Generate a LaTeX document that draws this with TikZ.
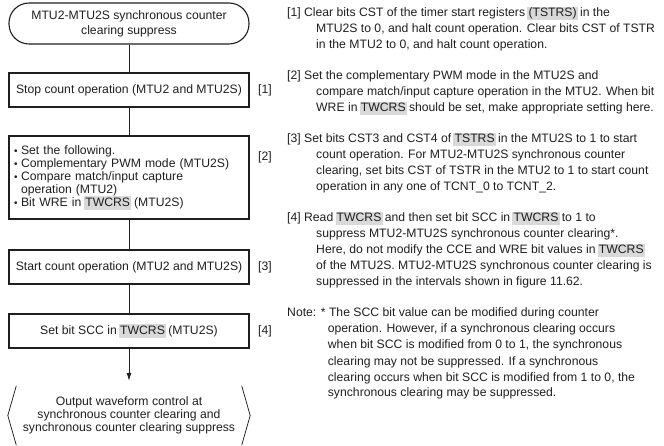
\documentclass[tikz,border=0pt]{standalone}
\usepackage{fontspec}
\setmainfont{Liberation Sans}
\usetikzlibrary{arrows.meta}
\definecolor{hlgray}{gray}{0.85}
\definecolor{ink}{gray}{0.12}
\newcommand{\hlt}[1]{\setbox0=\hbox{#1}\rlap{\kern-1.2pt\textcolor{hlgray}{\vrule width \dimexpr\wd0+2.4pt\relax height 10pt depth 3.2pt}}\box0\relax}
\newcommand{\blt}{\makebox[7.5pt][l]{\hspace*{0.5pt}\raisebox{0.3pt}{\fontsize{10}{10}\selectfont\textbullet}}}
\begin{document}
\begin{tikzpicture}[x=1pt,y=-1pt,
  font=\fontsize{12.2}{15}\selectfont, text=ink,
  box/.style={draw=ink, line width=1.1pt, minimum width=240pt, minimum height=34pt, inner sep=0pt, align=center},
  term/.style={box, rounded corners=20pt, minimum height=41pt, font=\fontsize{12.2}{15}\selectfont},
  endt/.style={minimum width=242pt, minimum height=59pt, inner sep=0pt, align=center, font=\fontsize{12.2}{12.8}\selectfont},
  conn/.style={draw=ink, line width=0.75pt},
  lbl/.style={anchor=west, inner sep=0pt},
  para/.style={anchor=base west, inner sep=0pt, font=\fontsize{12.2}{16}\selectfont}]
\useasboundingbox (0,0) rectangle (664,446);

% flowchart
\node[term] (start) at (129,23.5) {MTU2-MTU2S synchronous counter\\clearing suppress};
\node[box] (s1) at (129,90) {Stop count operation (MTU2 and MTU2S)};
\node[box, minimum height=83pt, text width=231pt, inner xsep=4.5pt, align=left,
      font=\fontsize{12.2}{13}\selectfont] (s2) at (129,177.5)
  {\blt Set the following.\\
   \blt Complementary PWM mode (MTU2S)\\
   \blt Compare match/input capture\\
   \hspace*{7.5pt}operation (MTU2)\\
   \blt Bit WRE in \hlt{TWCRS} (MTU2S)};
\node[box] (s3) at (129,267) {Start count operation (MTU2 and MTU2S)};
\node[box] (s4) at (129,331) {Set bit SCC in \hlt{TWCRS} (MTU2S)};
\node[endt] (end) at (129,415.5) {Output waveform control at\\synchronous counter clearing and\\synchronous counter clearing suppress};

\draw[conn] (start) -- (s1);
\draw[conn] (s1) -- (s2);
\draw[conn] (s2) -- (s3);
\draw[conn] (s3) -- (s4);
\draw[conn, -{Latex[length=8pt,width=5pt]}] (s4.south) -- ([yshift=5pt]end.north);
\draw[conn] ([xshift=8.5pt]end.north west) -- (end.west) -- ([xshift=8.5pt]end.south west);
\draw[conn] ([xshift=-8.5pt]end.north east) -- (end.east) -- ([xshift=-8.5pt]end.south east);

\node[lbl] (l1) at (258,90) {[1]};
\node[lbl] (l2) at (258,157) {[2]};
\node[lbl] (l3) at (258,267) {[3]};
\node[lbl] (l4) at (258,331) {[4]};

% explanations
\node[para] (p1) at (287,17) {\begin{tabular}[t]{@{}l@{}}[1] Clear bits CST of the timer start registers \hlt{(TSTRS)} in the\\
\hspace*{29pt}MTU2S to 0, and halt count operation. Clear bits CST of TSTR\\
\hspace*{29pt}in the MTU2 to 0, and halt count operation.\end{tabular}};
\node[para] (p2) at (287,80) {\begin{tabular}[t]{@{}l@{}}[2] Set the complementary PWM mode in the MTU2S and\\
\hspace*{29pt}compare match/input capture operation in the MTU2. When bit\\
\hspace*{29pt}WRE in \hlt{TWCRS} should be set, make appropriate setting here.\end{tabular}};
\node[para] (p3) at (287,143) {\begin{tabular}[t]{@{}l@{}}[3] Set bits CST3 and CST4 of \hlt{TSTRS} in the MTU2S to 1 to start\\
\hspace*{29pt}count operation. For MTU2-MTU2S synchronous counter\\
\hspace*{29pt}clearing, set bits CST of TSTR in the MTU2 to 1 to start count\\
\hspace*{29pt}operation in any one of TCNT\_0 to TCNT\_2.\end{tabular}};
\node[para] (p4) at (287,222) {\begin{tabular}[t]{@{}l@{}}[4] Read \hlt{TWCRS} and then set bit SCC in \hlt{TWCRS} to 1 to\\
\hspace*{29pt}suppress MTU2-MTU2S synchronous counter clearing*.\\
\hspace*{29pt}Here, do not modify the CCE and WRE bit values in \hlt{TWCRS}\\
\hspace*{29pt}of the MTU2S. MTU2-MTU2S synchronous counter clearing is\\
\hspace*{29pt}suppressed in the intervals shown in figure 11.62.\end{tabular}};
\node[para] (note) at (287,317) {\begin{tabular}[t]{@{}l@{}}Note: * The SCC bit value can be modified during counter\\
\hphantom{Note:\ *\ }operation. However, if a synchronous clearing occurs\\
\hphantom{Note:\ *\ }when bit SCC is modified from 0 to 1, the synchronous\\
\hphantom{Note:\ *\ }clearing may not be suppressed. If a synchronous\\
\hphantom{Note:\ *\ }clearing occurs when bit SCC is modified from 1 to 0, the\\
\hphantom{Note:\ *\ }synchronous clearing may be suppressed.\end{tabular}};
\end{tikzpicture}
\end{document}
